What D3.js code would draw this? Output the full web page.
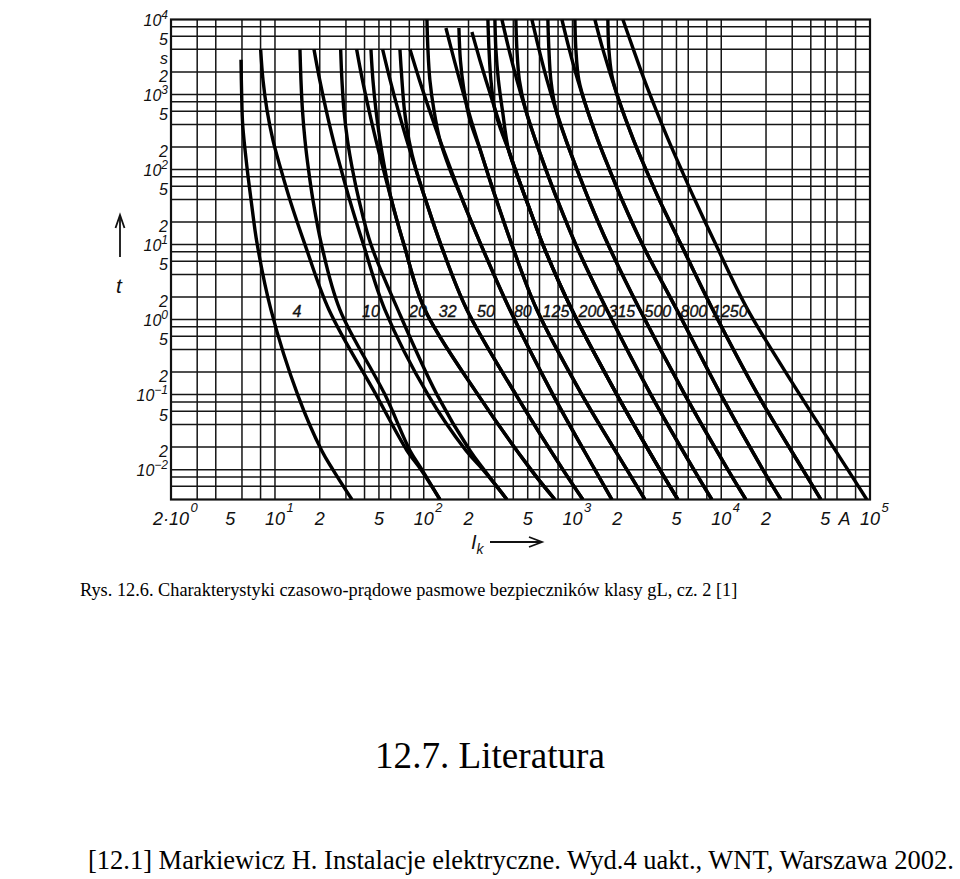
<!DOCTYPE html>
<html><head><meta charset="utf-8">
<script src="https://cdn.jsdelivr.net/npm/d3@7"></script>
<style>body{margin:0;background:#fff}svg{display:block}</style>
</head><body>
<svg id="chart" width="960" height="879"></svg>
<script>
// ---------- data ----------
const xGrid = [3,4,6,8,10,20,30,40,50,60,80,100,200,300,400,500,600,800,1000,2000,3000,4000,5000,6000,8000,10000,20000,30000,40000,50000,60000,80000];
const yGrid = [0.006,0.008,0.01,0.02,0.04,0.06,0.08,0.1,0.2,0.4,0.6,0.8,1,2,4,6,8,10,20,40,60,80,100,200,400,600,800,1000,2000,4000,6000,8000];
const xTickValues = [2,5,10,20,50,100,200,500,1000,2000,5000,10000,20000,50000,100000];
const xTickBase   = ["2·10","5","10","2","5","10","2","5","10","2","5","10","2","5","10"];
const xTickSup    = ["0","","1","","","2","","","3","","","4","","","5"];
const yTickValues = [10000,5000,3000,2000,1000,500,200,100,50,20,10,5,2,1,0.5,0.2,0.1,0.05,0.02,0.01];
const yTickBase   = ["10","5","s","2","10","5","2","10","5","2","10","5","2","10","5","2","10","5","2","10"];
const yTickSup    = ["4","","","","3","","","2","","","1","","","0","","","−1","","","−2"];
const ratings       = ["4","10","20","32","50","80","125","200","315","500","800","1250"];
const labelCurrents = [14.05,44.2,91.4,145,262,464,774,1350,2147,3749,6543,11424];
const labelTime = 1.3;

// curves: [current A, time s]
const c4min   = [[5.91,2900],[5.97,1000],[6.07,390],[6.51,100],[6.90,40],[7.60,10],[9.40,1.35],[14.2,0.1],[20.6,0.018],[24.5,0.01],[32.9,0.004]];
const c4max   = [[8.01,4000],[8.31,1555],[8.84,620],[9.69,247],[10.97,100],[12.61,39.3],[15.91,10],[23.06,1.35],[47.72,0.1],[77.1,0.018],[95.7,0.01],[128.5,0.004]];
const c10min  = [[14.72,4000],[14.95,1555],[15.30,620],[15.91,247],[16.80,100],[18.00,39.3],[20.54,10],[27.34,1.35],[54.85,0.1],[80.8,0.018],[97.2,0.01],[128.5,0.004]];
const c10max  = [[18.29,4000],[20.0,1555],[22.08,620],[24.65,247],[27.85,100],[31.77,39.3],[39.33,10],[54.85,1.35],[106.7,0.1],[192.1,0.018],[249.9,0.01],[362.4,0.004]];
const c20min  = [[27.64,4000],[28.19,1555],[29.09,620],[30.70,247],[33.18,100],[36.69,39.3],[44.17,10],[67.08,1.35],[122.7,0.1],[204.4,0.018],[253.8,0.01],[362.4,0.004]];
const c20max  = [[35.40,4000],[38.73,1555],[42.83,620],[47.72,247],[53.59,100],[60.66,39.3],[73.6,10],[101.9,1.35],[231.3,0.1],[525.4,0.01],[761.6,0.004]];
const c32min  = [[44.17,4000],[45.55,1555],[47.72,620],[50.8,247],[54.85,100],[60.66,39.3],[73.6,10],[101.9,1.35],[231.3,0.1],[525.4,0.01],[761.6,0.004]];
const c32max  = [[52.93,4000],[59.45,1555],[67.29,620],[76.86,247],[88.6,100],[103.0,39.3],[130.3,10],[195.1,1.35],[416.4,0.1],[861.8,0.01],[1174,0.004]];
const c50min  = [[69.18,4000],[71.37,1555],[74.18,620],[79.55,247],[88.6,100],[103.0,39.3],[130.3,10],[195.1,1.35],[416.4,0.1],[861.8,0.01],[1174,0.004]];
const c50max  = [[80.8,4000],[93.6,1555],[109.2,620],[128.5,247],[152.3,100],[182.0,39.3],[242.3,10],[379.6,1.35],[738.3,0.1],[1414,0.01],[1840,0.004]];
const c80min  = [[105.1,10000],[106.7,4000],[110.0,1555],[117.1,620],[128.5,247],[150.0,100],[182.0,39.3],[242.3,10],[379.6,1.35],[738.3,0.1],[1414,0.01],[1840,0.004]];
const c80max  = [[141.0,7700],[160.3,2870],[182.0,1145],[208.2,456],[239.8,181.8],[278.1,72.4],[324.6,28.9],[390.9,10],[576.4,1.35],[1156,0.1],[2320,0.01],[3065,0.004]];
const c125min = [[172.4,7700],[176.4,2870],[186.3,1145],[204.4,456],[239.8,181.8],[278.1,72.4],[324.6,28.9],[390.9,10],[576.4,1.35],[1156,0.1],[2320,0.01],[3065,0.004]];
const c125max = [[210.8,6800],[238.6,2870],[274.7,1145],[318.1,456],[372.0,181.8],[436.9,72.4],[518.1,28.9],[632.4,10],[990.6,1.35],[1988,0.1],[3867,0.01],[5109,0.004]];
const c200min = [[270.0,10000],[274.6,4000],[282.9,1555],[300.9,620],[330.3,336],[372.0,181.8],[436.9,72.4],[518.1,28.9],[632.4,10],[990.6,1.35],[1988,0.1],[3867,0.01],[5109,0.004]];
const c200aux = [[300.9,10000],[305.6,4000],[317.7,1555],[338.0,620],[372.0,181.8],[436.9,72.4],[518.1,28.9],[632.4,10],[990.6,1.35],[1988,0.1],[3867,0.01],[5109,0.004]];
const c200max = [[335.4,10000],[373.7,4000],[423.0,1555],[484.6,620],[563.2,247],[662.6,100],[791.5,39.3],[1052,10],[1702,1.35],[3364,0.1],[6543,0.01],[8646,0.004]];
const c315min = [[416.4,10000],[423.0,4000],[439.6,1555],[484.6,620],[563.2,247],[662.6,100],[791.5,39.3],[1052,10],[1702,1.35],[3364,0.1],[6543,0.01],[8646,0.004]];
const c315max = [[533.6,10000],[595.4,4000],[674.0,1555],[774.5,620],[904.1,247],[1072,100],[1289,39.3],[1735,10],[2838,1.35],[5692,0.1],[11074,0.01],[14634,0.004]];
const c500min = [[683.2,10000],[694.0,4000],[715.8,1555],[774.5,620],[904.1,247],[1072,100],[1289,39.3],[1735,10],[2838,1.35],[5692,0.1],[11074,0.01],[14634,0.004]];
const c500max = [[848.9,10000],[951.5,4000],[1085,1555],[1257,620],[1481,247],[1773,100],[2154,39.3],[2953,10],[5029,1.35],[9936,0.1],[19034,0.01],[25148,0.004]];
const c800min = [[1038,10000],[1054,4000],[1104,1555],[1257,620],[1481,247],[1773,100],[2154,39.3],[2953,10],[5029,1.35],[9936,0.1],[19034,0.01],[25148,0.004]];
const c800max = [[1414,10000],[1600,4000],[1991,1000],[2574,247],[3118,100],[3837,39.3],[5368,10],[8781,1.35],[17616,0.1],[35354,0.01],[46690,0.004]];
const c1250min= [[1729,10000],[1756,4000],[1840,1810],[1991,1000],[2574,247],[3118,100],[3837,39.3],[5368,10],[8781,1.35],[17616,0.1],[35354,0.01],[46690,0.004]];
const c1250max= [[2181,10000],[2566,4000],[3046,1555],[3651,620],[4418,247],[5393,100],[6657,39.3],[9198,10],[15093,1.35],[33745,0.1],[70918,0.01],[95150,0.004]];
const curves = [c4min,c4max,c10min,c10max,c20min,c20max,c32min,c32max,c50min,c50max,c80min,c80max,
  c125min,c125max,c200min,c200aux,c200max,c315min,c315max,c500min,c500max,c800min,c800max,c1250min,c1250max];

const captionText = "Rys. 12.6. Charakterystyki czasowo-prądowe pasmowe bezpieczników klasy gL, cz. 2 [1]";
const headingText = "12.7. Literatura";
const refText = "[12.1] Markiewicz H. Instalacje elektryczne. Wyd.4 uakt., WNT, Warszawa 2002.";

// ---------- drawing ----------
const svg = d3.select("#chart");
svg.append("rect").attr("width",960).attr("height",879).attr("fill","#fff");
const x = d3.scaleLog().domain([2,1e5]).range([171,870]);
const y = d3.scaleLog().domain([0.004,1e4]).range([499.5,19.5]);
const [x0,x1] = x.range(), [y0,y1] = [y(1e4), y(0.004)];

const grid = svg.append("g").attr("stroke","#151515").attr("stroke-width",1.5);
grid.selectAll("line.v").data(xGrid).join("line").attr("class","v")
  .attr("x1",d=>x(d)).attr("x2",d=>x(d)).attr("y1",y0).attr("y2",y1);
grid.selectAll("line.h").data(yGrid).join("line").attr("class","h")
  .attr("y1",d=>y(d)).attr("y2",d=>y(d)).attr("x1",x0).attr("x2",x1);
svg.append("rect").attr("x",x0).attr("y",y0).attr("width",x1-x0).attr("height",y1-y0)
  .attr("fill","none").attr("stroke","#111").attr("stroke-width",2.2);

svg.append("clipPath").attr("id","plotclip").append("rect")
  .attr("x",x0).attr("y",y0).attr("width",x1-x0).attr("height",y1-y0);
const line = d3.line().x(d=>x(d[0])).y(d=>y(d[1])).curve(d3.curveCatmullRom.alpha(0.5));
svg.append("g").attr("clip-path","url(#plotclip)").selectAll("path").data(curves).join("path")
  .attr("d",line).attr("fill","none").attr("stroke","#000").attr("stroke-width",3.4)
  .attr("stroke-linejoin","round");

const lab = {"font-family":"'Liberation Sans', Arial, sans-serif","font-style":"italic","fill":"#111"};
function applyFont(sel, size){ Object.entries(lab).forEach(([k,v])=>sel.attr(k,v)); sel.attr("font-size",size); return sel; }

// curve labels
ratings.forEach((r,i)=>{
  applyFont(svg.append("text"),16).attr("x",x(labelCurrents[i])).attr("y",y(labelTime)+6)
    .attr("text-anchor","middle").attr("stroke","#111").attr("stroke-width",0.35).text(r);
});

// y tick labels (hand-lettered: "5" sits a little high, "2" a little low)
const yNudge = {"5":-2.5,"2":4,"s":1};
yTickValues.forEach((v,i)=>{
  const b = yTickBase[i];
  const centre = y(v) + (b in yNudge ? yNudge[b] : 1);
  const t = applyFont(svg.append("text"),16).attr("x",168)
    .attr("y",centre + (b==="s" ? 4 : 5.8)).attr("text-anchor","end");
  t.append("tspan").text(b);
  if (yTickSup[i]) t.append("tspan").attr("font-size",12).attr("dy",-7).text(yTickSup[i]);
});

// x tick labels
xTickValues.forEach((v,i)=>{
  const t = applyFont(svg.append("text"),18).attr("x",x(v)).attr("y",525).attr("text-anchor","middle").text(xTickBase[i]);
  if (xTickSup[i]) {
    const bb = t.node().getBBox();
    applyFont(svg.append("text"),13).attr("x",bb.x+bb.width+1.5).attr("y",512).text(xTickSup[i]);
  }
});
applyFont(svg.append("text"),18).attr("x",(x(50000)+x(100000))/2-3).attr("y",525).attr("text-anchor","middle").text("A");

// axis titles with arrows
const arrowStroke = {"stroke":"#111","stroke-width":1.8,"fill":"none"};
const ay = svg.append("g"); Object.entries(arrowStroke).forEach(([k,v])=>ay.attr(k,v));
ay.append("line").attr("x1",120).attr("x2",120).attr("y1",257).attr("y2",216);
ay.append("path").attr("d","M115.5,228 L120,215 L124.5,228");
applyFont(svg.append("text"),21).attr("x",119).attr("y",293).attr("text-anchor","middle").text("t");

const ax = svg.append("g"); Object.entries(arrowStroke).forEach(([k,v])=>ax.attr(k,v));
ax.append("line").attr("x1",490).attr("x2",541).attr("y1",542).attr("y2",542);
ax.append("path").attr("d","M529,537 L542,542 L529,547");
const ik = applyFont(svg.append("text"),20).attr("x",471).attr("y",549);
ik.append("tspan").text("I");
ik.append("tspan").attr("font-size",14).attr("dy",5).text("k");

// texts below
function fitText(sel, target){
  const w = sel.node().getComputedTextLength();
  sel.attr("font-size", parseFloat(sel.attr("font-size"))*target/w);
}
const serif = "'Liberation Serif', 'Times New Roman', serif";
const cap = svg.append("text").attr("x",80).attr("y",596).attr("font-family",serif).attr("font-size",20).attr("fill","#000").text(captionText);
fitText(cap, 658);
const head = svg.append("text").attr("x",375).attr("y",768).attr("font-family",serif).attr("font-size",32).attr("fill","#000").text(headingText);
fitText(head, 230);
const ref = svg.append("text").attr("x",88).attr("y",869).attr("font-family",serif).attr("font-size",20).attr("fill","#000").text(refText);
fitText(ref, 866);
</script>
</body></html>
